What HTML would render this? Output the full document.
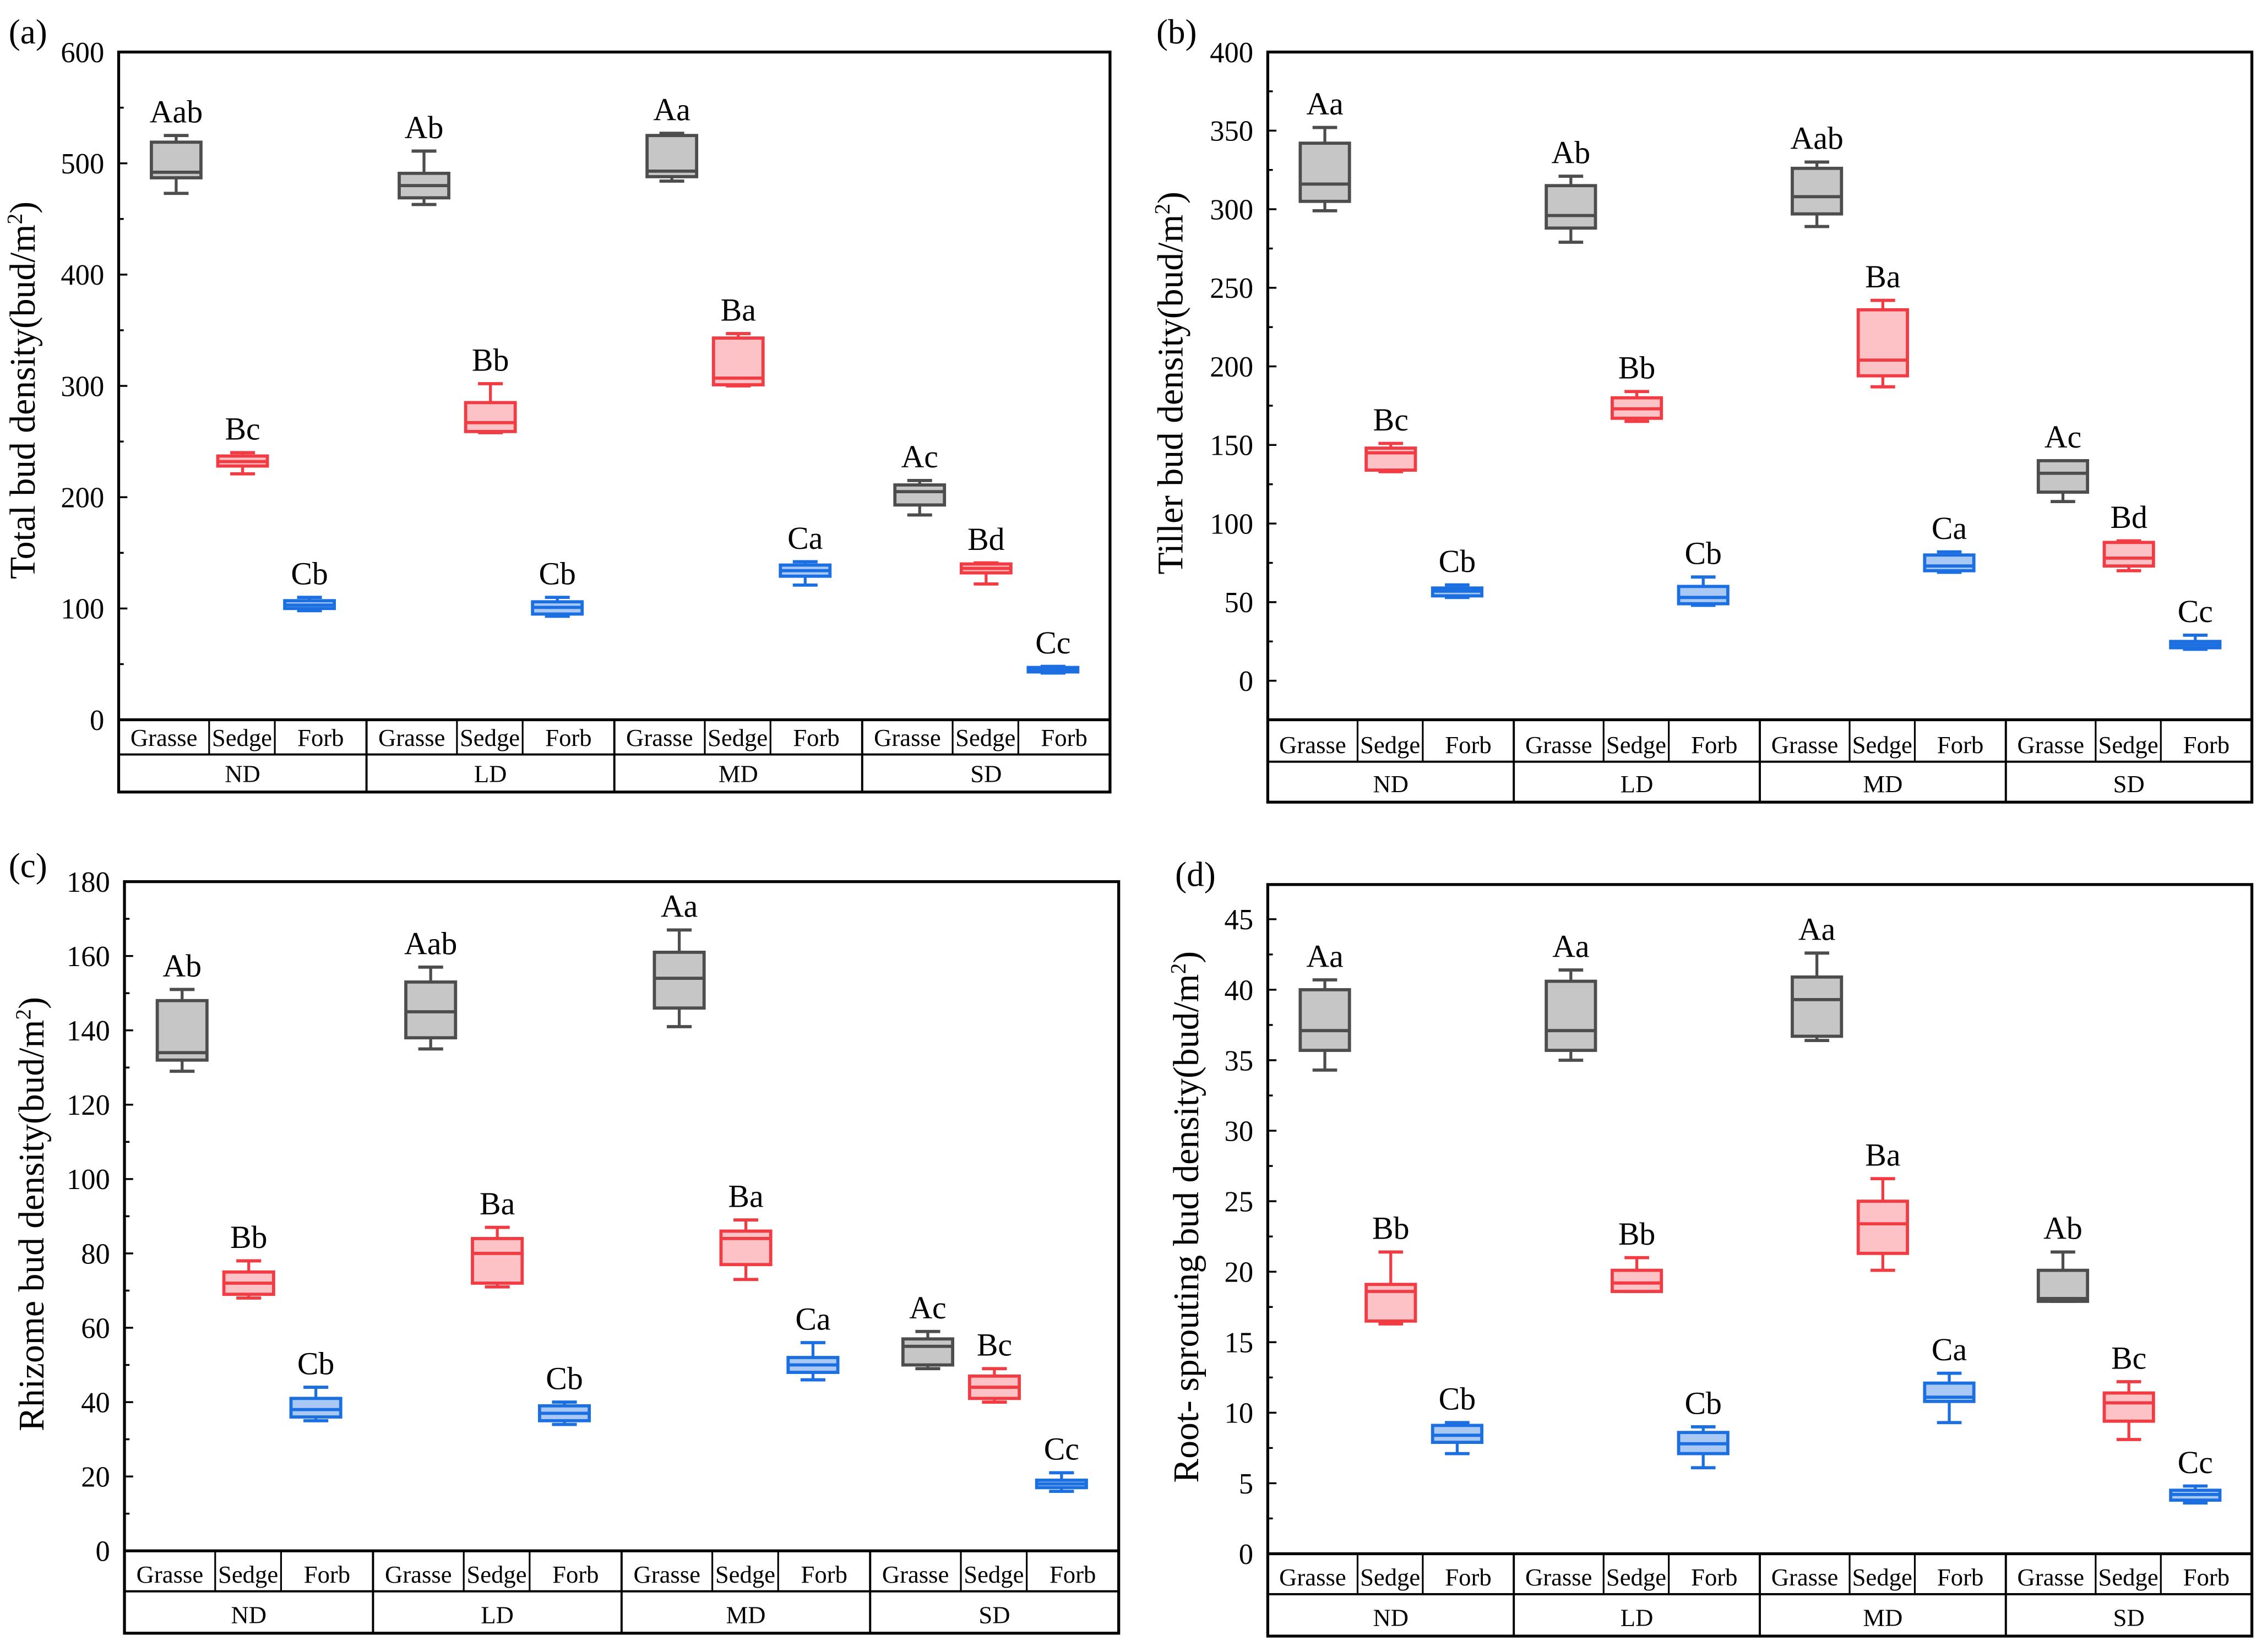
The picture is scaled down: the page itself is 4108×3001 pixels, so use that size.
<!DOCTYPE html>
<html><head><meta charset="utf-8"><style>
html,body{margin:0;padding:0;background:#fff;}
svg{display:block;}
text{font-family:"Liberation Serif",serif;fill:#000;}
</style></head><body>
<svg id="chart" width="4108" height="3001" viewBox="0 0 1563 1143" preserveAspectRatio="none" xmlns="http://www.w3.org/2000/svg">
<rect x="0" y="0" width="1563" height="1143" fill="#fff"/>
</svg>
<script>
const groups = ["ND","LD","MD","SD"];
const categories = ["Grasse","Sedge","Forb"];
// [min, q1, median, q3, max] for each group x category (ND G,S,F, LD G,S,F, ...)
const totalStats = [[473,487,492,519,525],[221,228,232,237,240],[98,100,103,107,110],
  [463,469,480,491,511],[258,259,267,285,302],[93,95,101,106,110],
  [484,488,493,525,527],[300,301,307,343,347],[121,129,134,139,142],
  [184,193,205,211,215],[122,132,136,140,141],[42,43,45,47,48]];
const totalLetters = ["Aab","Bc","Cb","Ab","Bb","Cb","Aa","Ba","Ca","Ac","Bd","Cc"];
const tillerStats = [[299,305,316,342,352],[133,134,145,148,151],[53,54,57,59,61],
  [279,288,296,315,321],[165,167,173,180,184],[48,49,53,60,66],
  [289,297,308,326,330],[187,194,204,236,242],[69,70,73,80,82],
  [114,120,132,140,140],[70,73,78,88,89],[20,21,23,25,29]];
const tillerLetters = ["Aa","Bc","Cb","Ab","Bb","Cb","Aab","Ba","Ca","Ac","Bd","Cc"];
const rhizomeStats = [[129,132,134,148,151],[68,69,72,75,78],[35,36,38,41,44],
  [135,138,145,153,157],[71,72,80,84,87],[34,35,37,39,40],
  [141,146,154,161,167],[73,77,84,86,89],[46,48,50,52,56],
  [49,50,55,57,59],[40,41,44,47,49],[16,17,18,19,21]];
const rhizomeLetters = ["Ab","Bb","Cb","Aab","Ba","Cb","Aa","Ba","Ca","Ac","Bc","Cc"];
const rootStats = [[34.3,35.7,37.1,40,40.7],[16.3,16.5,18.6,19.1,21.4],[7.1,7.9,8.4,9.1,9.3],
  [35,35.7,37.1,40.6,41.4],[18.6,18.6,19.2,20.1,21],[6.1,7.1,7.8,8.6,9],
  [36.4,36.7,39.3,40.9,42.6],[20.1,21.3,23.4,25,26.6],[9.3,10.8,11.1,12.1,12.8],
  [17.9,17.9,18.1,20.1,21.4],[8.1,9.4,10.7,11.4,12.2],[3.6,3.8,4.2,4.5,4.8]];
const rootLetters = ["Aa","Bb","Cb","Aa","Bb","Cb","Aa","Ba","Ca","Ab","Bc","Cc"];
const totalTicks = [0,100,200,300,400,500,600];
const tillerTicks = [0,50,100,150,200,250,300,350,400];
const rhizomeTicks = [0,20,40,60,80,100,120,140,160,180];
const rootTicks = [0,5,10,15,20,25,30,35,40,45];

const NS="http://www.w3.org/2000/svg";
const svg=document.getElementById('chart');
const strokeC=["#4d4d4d","#f23c44","#1c6fe0"];
const fillC=["#c6c6c6","#fdc2c6","#a9c9f4"];
function el(tag,attrs,parent){const e=document.createElementNS(NS,tag);for(const k in attrs)e.setAttribute(k,attrs[k]);(parent||svg).appendChild(e);return e;}
function txt(s,attrs,parent){const t=el('text',attrs,parent);t.textContent=s;return t;}

const panels=[
 {id:"a",label:"(a)",lx:6,ly:30,title:"Total bud density(bud/m",tx:22,ty:270,x0:82,x1:767,top:36,vTop:600,yTop:36,yZero:498,axB:498,r1:522,r2:548,ticks:totalTicks,minor:50,stats:totalStats,letters:totalLetters},
 {id:"b",label:"(b)",lx:799,ly:30,title:"Tiller bud density(bud/m",tx:815,ty:265,x0:876,x1:1556,top:36,vTop:400,yTop:36,yZero:471,axB:498,r1:527,r2:555,ticks:tillerTicks,minor:25,stats:tillerStats,letters:tillerLetters},
 {id:"c",label:"(c)",lx:6,ly:607,title:"Rhizome bud density(bud/m",tx:28,ty:840,x0:86,x1:773,top:610,vTop:180,yTop:610,yZero:1073,axB:1073,r1:1101,r2:1130,ticks:rhizomeTicks,minor:10,stats:rhizomeStats,letters:rhizomeLetters},
 {id:"d",label:"(d)",lx:812,ly:613,title:"Root- sprouting bud density(bud/m",tx:826,ty:842,x0:876,x1:1556,top:612,vTop:45,yTop:636,yZero:1075,axB:1075,r1:1103,r2:1132,ticks:rootTicks,minor:2.5,stats:rootStats,letters:rootLetters}
];

panels.forEach(p=>{
  const g=el('g',{});
  
  
  const y=v=>p.yZero-(v/p.vTop)*(p.yZero-p.yTop);
  const vMin=(p.yZero-p.axB)/(p.yZero-p.yTop)*p.vTop;
  const vMaxTop=(p.yZero-p.top)/(p.yZero-p.yTop)*p.vTop;
  const gw=(p.x1-p.x0)/4;
  const pl=txt(p.label,{x:p.lx,y:p.ly,'font-size':24},g);
  
  
  const fr=el('rect',{x:p.x0,y:p.top,width:p.x1-p.x0,height:p.r2-p.top,fill:'none',stroke:'#000','stroke-width':2},g);
  
  
  el('line',{x1:p.x0,x2:p.x1,y1:p.axB,y2:p.axB,stroke:'#000','stroke-width':2},g);
  el('line',{x1:p.x0,x2:p.x1,y1:p.r1,y2:p.r1,stroke:'#000','stroke-width':1.5},g);
  for(let v=Math.ceil(vMin/p.minor)*p.minor; v<=vMaxTop+1e-6; v+=p.minor){
    const major=p.ticks.some(t=>Math.abs(t-v)<1e-6);
    el('line',{x1:p.x0,x2:p.x0+(major?6:3.5),y1:y(v),y2:y(v),stroke:'#000','stroke-width':1.3},g);
  }
  p.ticks.forEach(t=>{
    const tl=txt(String(t),{x:p.x0-10,y:y(t)+7,'font-size':20,'text-anchor':'end'},g);
    
    
  });
  const yt=txt(p.title,{x:0,y:0,'font-size':25,'text-anchor':'middle',transform:`translate(${p.tx+2},${p.ty}) rotate(-90)`},g);
  const sup=document.createElementNS(NS,'tspan');sup.setAttribute('dy','-9');sup.setAttribute('font-size','15');sup.textContent='2';yt.appendChild(sup);
  const cl=document.createElementNS(NS,'tspan');cl.setAttribute('dy','9');cl.textContent=')';yt.appendChild(cl);
  
  
  const subFr=[0,0.365,0.63,1];
  const cen=[0.232,0.5,0.77];
  groups.forEach((gn,gi)=>{
    const gx=p.x0+gi*gw;
    if(gi>0) el('line',{x1:gx,x2:gx,y1:p.axB,y2:p.r2,stroke:'#000','stroke-width':1.5},g);
    [1,2].forEach(k=>el('line',{x1:gx+subFr[k]*gw,x2:gx+subFr[k]*gw,y1:p.axB,y2:p.r1,stroke:'#000','stroke-width':1.2},g));
    const gl=txt(gn,{x:gx+gw/2,y:p.r2-7,'font-size':17,'text-anchor':'middle'},g);
    
    
    categories.forEach((cn,ci)=>{
      const cl2=txt(cn,{x:gx+(subFr[ci]+subFr[ci+1])/2*gw,y:p.r1-6,'font-size':17,'text-anchor':'middle'},g);
      
      
      const idx=gi*3+ci;
      const s=p.stats[idx];
      const cx=gx+cen[ci]*gw, bw=gw*0.2, cw=gw*0.1;
      const bg=el('g',{},g);
      
      
      const sc=strokeC[ci];
      el('line',{x1:cx,x2:cx,y1:y(s[0]),y2:y(s[1]),stroke:sc,'stroke-width':2},bg);
      el('line',{x1:cx,x2:cx,y1:y(s[3]),y2:y(s[4]),stroke:sc,'stroke-width':2},bg);
      el('line',{x1:cx-cw/2,x2:cx+cw/2,y1:y(s[0]),y2:y(s[0]),stroke:sc,'stroke-width':2.2},bg);
      el('line',{x1:cx-cw/2,x2:cx+cw/2,y1:y(s[4]),y2:y(s[4]),stroke:sc,'stroke-width':2.2},bg);
      el('rect',{x:cx-bw/2,y:y(s[3]),width:bw,height:Math.max(1,y(s[1])-y(s[3])),fill:fillC[ci],stroke:sc,'stroke-width':2.2},bg);
      el('line',{x1:cx-bw/2,x2:cx+bw/2,y1:y(s[2]),y2:y(s[2]),stroke:sc,'stroke-width':2.2},bg);
      const lt=txt(p.letters[idx],{x:cx,y:y(s[4])-9,'font-size':22,'text-anchor':'middle'},g);
      
      
    });
  });
});
</script>
</body></html>
